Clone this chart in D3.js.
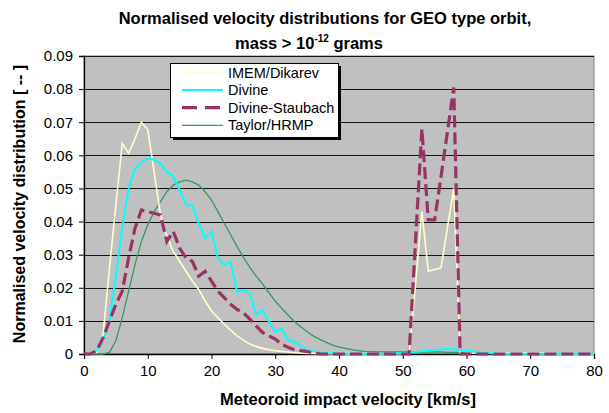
<!DOCTYPE html>
<html>
<head>
<meta charset="utf-8">
<script src="https://d3js.org/d3.v7.min.js"></script>
<style>
  body { margin: 0; background: #fff; }
  text { font-family: "Liberation Sans", Arial, sans-serif; }
</style>
</head>
<body>
<div id="chart"></div>
<script>
// velocity bins, km/s
const velocity = d3.range(0, 81);

// values, one per km/s (0..80)
const imem = [
  0, 0, 0.0005, 0.006, 0.026, 0.045, 0.0636, 0.0606, 0.065, 0.070,
  0.0677, 0.055, 0.042, 0.0355, 0.031, 0.028, 0.025, 0.022, 0.0195, 0.016,
  0.013, 0.011, 0.009, 0.0072, 0.0055, 0.0042, 0.003, 0.0023, 0.0017, 0.0013,
  0.001, 0.0008, 0.0006, 0.0004, 0.0003, 0.0002, 0.0002, 0.0001, 0.0001, 0.0001,
  0.0001, 0.0001, 0.0001, 0.0001, 0.0001, 0.0001, 0.0001, 0.0001, 0.0001, 0.0001,
  0.0001, 0, 0.021, 0.043, 0.025, 0.0255, 0.026, 0.038, 0.050, 0,
  0.0002, 0.0003, 0.0003, 0.0003, 0.0003, 0.0003, 0.0003, 0.0003, 0.0003, 0.0003,
  0.0003, 0.0003, 0.0003, 0.0002, 0, 0, 0, 0, 0, 0,
  0
];
const divine = [
  0, 0, 0.001, 0.004, 0.010, 0.024, 0.038, 0.050, 0.056, 0.058,
  0.059, 0.0587, 0.0575, 0.0548, 0.0538, 0.0495, 0.0452, 0.0448, 0.0395, 0.035,
  0.037, 0.029, 0.0268, 0.028, 0.0188, 0.0193, 0.0183, 0.0118, 0.0133, 0.0098,
  0.0067, 0.0077, 0.0042, 0.0037, 0.0025, 0.0012, 0.0008, 0.0005, 0.0003, 0.0002,
  0.0001, 0.0001, 0.0001, 0.0001, 0.0001, 0.0001, 0.0001, 0.0001, 0.0001, 0.0002,
  0.0002, 0.0004, 0.0006, 0.0008, 0.001, 0.0012, 0.0014, 0.0014, 0.0014, 0.0012,
  0.001, 0.0008, 0.0005, 0.0003, 0.0002, 0.0001, 0.0001, 0.0001, 0.0001, 0.0001,
  0.0001, 0.0001, 0.0001, 0.0001, 0.0001, 0.0001, 0.0001, 0.0001, 0.0001, 0.0001,
  0.0001
];
const staubach = [
  0, 0, 0.001, 0.005, 0.010, 0.015, 0.019, 0.029, 0.038, 0.0435,
  0.043, 0.0425, 0.042, 0.034, 0.037, 0.032, 0.029, 0.028, 0.0235, 0.025,
  0.022, 0.019, 0.017, 0.015, 0.0135, 0.0125, 0.0105, 0.0085, 0.0065, 0.0055,
  0.0045, 0.003, 0.002, 0.0013, 0.001, 0.0007, 0.0003, 0, 0, 0,
  0, 0, 0, 0, 0, 0, 0, 0, 0, 0,
  0, 0, 0.034, 0.068, 0.0405, 0.0405, 0.0535, 0.067, 0.0805, 0,
  0, 0, 0, 0, 0, 0, 0, 0, 0, 0,
  0, 0, 0, 0, 0, 0, 0, 0, 0, 0,
  0
];
const taylor = [
  0, 0, 0, 0, 0.0005, 0.004, 0.011, 0.019, 0.027, 0.034,
  0.039, 0.043, 0.046, 0.049, 0.051, 0.052, 0.0525, 0.052, 0.051, 0.049,
  0.0465, 0.043, 0.0395, 0.036, 0.0325, 0.0292, 0.0262, 0.0235, 0.0212, 0.0185,
  0.016, 0.0138, 0.0118, 0.0098, 0.0082, 0.0067, 0.0054, 0.0044, 0.0035, 0.0027,
  0.0021, 0.0017, 0.0013, 0.001, 0.0008, 0.0007, 0.0006, 0.0006, 0.0006, 0.0006,
  0.0006, 0.0006, 0.0006, 0.0006, 0.0006, 0.0006, 0.0006, 0.0005, 0.0005, 0.0005,
  0.0004, 0.0004, 0.0003, 0.0002, 0.0001, 0, 0, 0, 0, 0,
  0, 0, 0, 0, 0, 0, 0, 0, 0, 0,
  0
];

const seriesNames = ["IMEM/Dikarev", "Divine", "Divine-Staubach", "Taylor/HRMP"];
const xTicks = [0, 10, 20, 30, 40, 50, 60, 70, 80];
const yTicks = [0, 0.01, 0.02, 0.03, 0.04, 0.05, 0.06, 0.07, 0.08, 0.09];

const width = 609, height = 413;
const margin = {top: 56, right: 15, bottom: 59, left: 84};

const svg = d3.select("#chart").append("svg")
  .attr("width", width).attr("height", height);

const x = d3.scaleLinear().domain([0, 80]).range([margin.left, width - margin.right]);
const y = d3.scaleLinear().domain([0, 0.09]).range([height - margin.bottom, margin.top]);

// plot area
svg.append("rect")
  .attr("x", x(0)).attr("y", y(0.09))
  .attr("width", x(80) - x(0)).attr("height", y(0) - y(0.09))
  .attr("fill", "#c0c0c0")
  .attr("stroke", "#808080");

// gridlines
svg.append("g").selectAll("line")
  .data(yTicks.slice(1))
  .join("line")
    .attr("x1", x(0)).attr("x2", x(80))
    .attr("y1", d => Math.round(y(d)) + 0.5).attr("y2", d => Math.round(y(d)) + 0.5)
    .attr("stroke", "#111").attr("stroke-width", 1);

// axes
const xAxis = svg.append("g")
  .attr("transform", `translate(0,${y(0)})`)
  .call(d3.axisBottom(x).tickValues(xTicks).tickSize(5).tickPadding(6).tickFormat(d3.format("d")));
const yAxis = svg.append("g")
  .attr("transform", `translate(${x(0)},0)`)
  .call(d3.axisLeft(y).tickValues(yTicks).tickSize(5).tickPadding(6)
    .tickFormat(d => d === 0 ? "0" : d3.format(".2f")(d)));
[xAxis, yAxis].forEach(a => {
  a.selectAll("text").attr("font-size", 15).attr("fill", "#000")
    .attr("font-family", "'Liberation Sans', Arial, sans-serif");
  a.selectAll("line").attr("stroke", "#000");
  a.select(".domain").attr("stroke", "#000").attr("stroke-width", 1.3);
});

// series
const line = d3.line().x((d, i) => x(velocity[i])).y(d => y(d));
const styles = [
  {name: seriesNames[3], data: taylor, color: "#339966", w: 1.3, dash: null},
  {name: seriesNames[0], data: imem, color: "#ffffcc", w: 1.6, dash: null},
  {name: seriesNames[1], data: divine, color: "#00ffff", w: 2, dash: null},
  {name: seriesNames[2], data: staubach, color: "#993366", w: 3.2, dash: "12,5"}
];
svg.append("g").selectAll("path")
  .data(styles)
  .join("path")
    .attr("d", d => line(d.data))
    .attr("fill", "none")
    .attr("stroke", d => d.color)
    .attr("stroke-width", d => d.w)
    .attr("stroke-dasharray", d => d.dash)
    .attr("stroke-linejoin", "miter");

// legend
const legend = svg.append("g");
legend.append("rect")
  .attr("x", 173).attr("y", 66).attr("width", 168).attr("height", 74)
  .attr("fill", "#000");
legend.append("rect")
  .attr("x", 170.5).attr("y", 63.5).attr("width", 168).attr("height", 74)
  .attr("fill", "#fff").attr("stroke", "#000");
const legendOrder = [styles[1], styles[2], styles[3], styles[0]];
legendOrder.forEach((s, i) => {
  const ly = 72.5 + i * 17.6;
  legend.append("line")
    .attr("x1", 182).attr("x2", 223).attr("y1", ly).attr("y2", ly)
    .attr("stroke", s.color).attr("stroke-width", s.w)
    .attr("stroke-dasharray", s.dash ? "15,8" : null);
  legend.append("text")
    .attr("x", 228).attr("y", ly + 5)
    .attr("font-size", 14.5)
    .text(s.name);
});

// titles
svg.append("text")
  .attr("x", 325).attr("y", 24)
  .attr("text-anchor", "middle").attr("font-size", 16.5).attr("font-weight", "bold")
  .text("Normalised velocity distributions for GEO type orbit,");
const t2 = svg.append("text")
  .attr("x", 309).attr("y", 49)
  .attr("text-anchor", "middle").attr("font-size", 16.5).attr("font-weight", "bold");
t2.append("tspan").text("mass > 10");
t2.append("tspan").attr("font-size", 10).attr("dy", -7).text("-12");
t2.append("tspan").attr("dy", 7).text(" grams");

svg.append("text")
  .attr("x", 348).attr("y", 405)
  .attr("text-anchor", "middle").attr("font-size", 16.5).attr("font-weight", "bold")
  .text("Meteoroid impact velocity [km/s]");
svg.append("text")
  .attr("transform", "translate(25,204) rotate(-90)")
  .attr("text-anchor", "middle").attr("font-size", 16).attr("font-weight", "bold")
  .text("Normalised velocity distribution [ -- ]");
</script>
</body>
</html>
